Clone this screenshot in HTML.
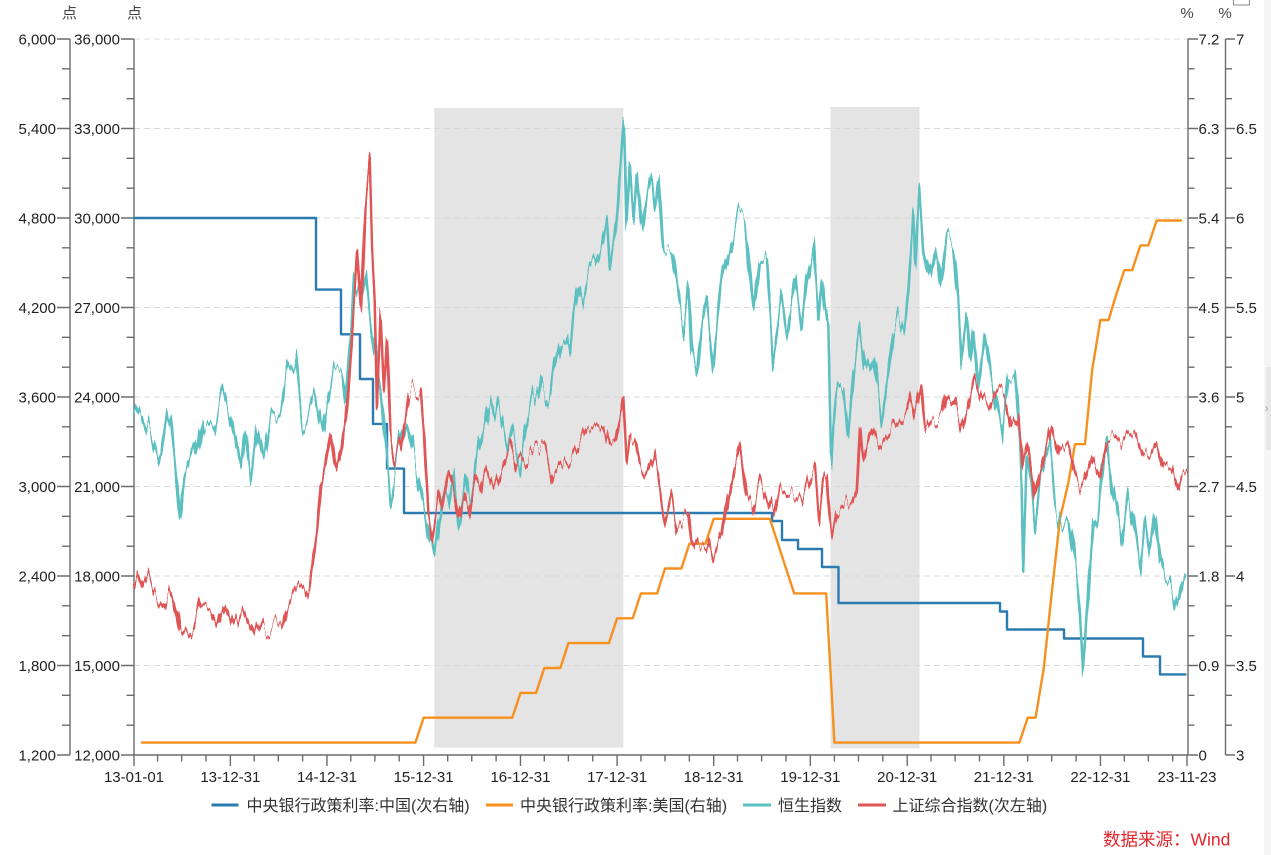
<!DOCTYPE html>
<html>
<head>
<meta charset="utf-8">
<style>
html,body{margin:0;padding:0;background:#fff;}
svg{display:block;}
text{font-family:"Liberation Sans","Noto Sans CJK SC",sans-serif;}
</style>
</head>
<body>
<svg width="1271" height="855" viewBox="0 0 1271 855" xmlns="http://www.w3.org/2000/svg">
<defs>
<filter id="jh" filterUnits="userSpaceOnUse" x="0" y="0" width="1271" height="855" color-interpolation-filters="sRGB">
 <feTurbulence type="fractalNoise" baseFrequency="0.22 0.001" numOctaves="2" seed="3" result="t"/>
 <feColorMatrix in="t" type="matrix" values="0 0 0 0 0.5  0 1 0 0 0  0 0 0 0 0  0 0 0 0 1" result="n"/>
 <feDisplacementMap in="SourceGraphic" in2="n" scale="50" xChannelSelector="R" yChannelSelector="G"/>
</filter>
<filter id="js" filterUnits="userSpaceOnUse" x="0" y="0" width="1271" height="855" color-interpolation-filters="sRGB">
 <feTurbulence type="fractalNoise" baseFrequency="0.22 0.001" numOctaves="2" seed="11" result="t"/>
 <feColorMatrix in="t" type="matrix" values="0 0 0 0 0.5  0 1 0 0 0  0 0 0 0 0  0 0 0 0 1" result="n"/>
 <feDisplacementMap in="SourceGraphic" in2="n" scale="40" xChannelSelector="R" yChannelSelector="G"/>
</filter>
</defs>
<rect x="0" y="0" width="1271" height="855" fill="#fff"/>

<!-- shaded periods -->
<rect x="434.3" y="108" width="189" height="639.5" fill="#e4e4e4"/>
<rect x="830.5" y="107" width="89" height="641.5" fill="#e4e4e4"/>

<!-- gridlines -->
<g stroke="#d9d9d9" stroke-width="1" stroke-dasharray="6,4">
<path d="M134 39H1188M134 128.5H1188M134 218H1188M134 307.5H1188M134 397H1188M134 486.5H1188M134 576H1188M134 665.5H1188"/>
</g>

<!-- axes -->
<g stroke="#6b6b6b" stroke-width="1.4" fill="none">
<path d="M70 39V755M134 39V755M1188 39V755M1225.5 39V755M134 755H1188"/>
<path d="M57 39H70M57 128.5H70M57 218H70M57 307.5H70M57 397H70M57 486.5H70M57 576H70M57 665.5H70M57 755H70"/>
<path d="M62 68.8H70M62 98.7H70M62 158.3H70M62 188.2H70M62 247.8H70M62 277.7H70M62 337.3H70M62 367.2H70M62 426.8H70M62 456.7H70M62 516.3H70M62 546.2H70M62 605.8H70M62 635.7H70M62 695.3H70M62 725.2H70"/>
<path d="M121 39H134M121 128.5H134M121 218H134M121 307.5H134M121 397H134M121 486.5H134M121 576H134M121 665.5H134M121 755H134"/>
<path d="M126.5 68.8H134M126.5 98.7H134M126.5 158.3H134M126.5 188.2H134M126.5 247.8H134M126.5 277.7H134M126.5 337.3H134M126.5 367.2H134M126.5 426.8H134M126.5 456.7H134M126.5 516.3H134M126.5 546.2H134M126.5 605.8H134M126.5 635.7H134M126.5 695.3H134M126.5 725.2H134"/>
<path d="M1188 39H1198M1188 128.5H1198M1188 218H1198M1188 307.5H1198M1188 397H1198M1188 486.5H1198M1188 576H1198M1188 665.5H1198M1188 755H1198"/>
<path d="M1188 68.8H1194.5M1188 98.7H1194.5M1188 158.3H1194.5M1188 188.2H1194.5M1188 247.8H1194.5M1188 277.7H1194.5M1188 337.3H1194.5M1188 367.2H1194.5M1188 426.8H1194.5M1188 456.7H1194.5M1188 516.3H1194.5M1188 546.2H1194.5M1188 605.8H1194.5M1188 635.7H1194.5M1188 695.3H1194.5M1188 725.2H1194.5"/>
<path d="M1225.5 39H1235M1225.5 128.5H1235M1225.5 218H1235M1225.5 307.5H1235M1225.5 397H1235M1225.5 486.5H1235M1225.5 576H1235M1225.5 665.5H1235M1225.5 755H1235"/>
<path d="M1225.5 68.8H1232M1225.5 98.7H1232M1225.5 158.3H1232M1225.5 188.2H1232M1225.5 247.8H1232M1225.5 277.7H1232M1225.5 337.3H1232M1225.5 367.2H1232M1225.5 426.8H1232M1225.5 456.7H1232M1225.5 516.3H1232M1225.5 546.2H1232M1225.5 605.8H1232M1225.5 635.7H1232M1225.5 695.3H1232M1225.5 725.2H1232"/>
<path d="M134 755V766M230.35 755V766M326.97 755V766M423.59 755V766M520.47 755V766M617.09 755V766M713.71 755V766M810.33 755V766M907.21 755V766M1003.83 755V766M1100.45 755V766M1187 755V766"/>
<path d="M157.56 755V761.5M181.65 755V761.5M206 755V761.5M254.18 755V761.5M278.27 755V761.5M302.62 755V761.5M350.79 755V761.5M374.88 755V761.5M399.23 755V761.5M447.68 755V761.5M471.77 755V761.5M496.12 755V761.5M544.29 755V761.5M568.38 755V761.5M592.74 755V761.5M640.91 755V761.5M665 755V761.5M689.35 755V761.5M737.53 755V761.5M761.62 755V761.5M785.97 755V761.5M834.41 755V761.5M858.5 755V761.5M882.85 755V761.5M931.03 755V761.5M955.12 755V761.5M979.47 755V761.5M1027.65 755V761.5M1051.74 755V761.5M1076.09 755V761.5M1124.27 755V761.5M1148.35 755V761.5M1172.71 755V761.5"/>
</g>

<!-- axis labels -->
<g font-size="15" fill="#222">
<g text-anchor="end">
<text x="56" y="44.3">6,000</text><text x="56" y="133.8">5,400</text><text x="56" y="223.3">4,800</text><text x="56" y="312.8">4,200</text><text x="56" y="402.3">3,600</text><text x="56" y="491.8">3,000</text><text x="56" y="581.3">2,400</text><text x="56" y="670.8">1,800</text><text x="56" y="760.3">1,200</text>
<text x="120" y="44.3">36,000</text><text x="120" y="133.8">33,000</text><text x="120" y="223.3">30,000</text><text x="120" y="312.8">27,000</text><text x="120" y="402.3">24,000</text><text x="120" y="491.8">21,000</text><text x="120" y="581.3">18,000</text><text x="120" y="670.8">15,000</text><text x="120" y="760.3">12,000</text>
</g>
<g text-anchor="start">
<text x="1198.5" y="44.3">7.2</text><text x="1198.5" y="133.8">6.3</text><text x="1198.5" y="223.3">5.4</text><text x="1198.5" y="312.8">4.5</text><text x="1198.5" y="402.3">3.6</text><text x="1198.5" y="491.8">2.7</text><text x="1198.5" y="581.3">1.8</text><text x="1198.5" y="670.8">0.9</text><text x="1198.5" y="760.3">0</text>
<text x="1236" y="44.3">7</text><text x="1236" y="133.8">6.5</text><text x="1236" y="223.3">6</text><text x="1236" y="312.8">5.5</text><text x="1236" y="402.3">5</text><text x="1236" y="491.8">4.5</text><text x="1236" y="581.3">4</text><text x="1236" y="670.8">3.5</text><text x="1236" y="760.3">3</text>
</g>
<g text-anchor="middle">
<text x="134" y="782">13-01-01</text><text x="230.35" y="782">13-12-31</text><text x="326.97" y="782">14-12-31</text><text x="423.59" y="782">15-12-31</text><text x="520.47" y="782">16-12-31</text><text x="617.09" y="782">17-12-31</text><text x="713.71" y="782">18-12-31</text><text x="810.33" y="782">19-12-31</text><text x="907.21" y="782">20-12-31</text><text x="1003.83" y="782">21-12-31</text><text x="1100.45" y="782">22-12-31</text><text x="1187" y="782">23-11-23</text>
<text x="69.5" y="18" fill="#444">点</text><text x="134.5" y="18" fill="#444">点</text>
<text x="1187" y="18" fill="#444">%</text><text x="1225" y="18" fill="#444">%</text>
</g>
</g>

<!-- series -->
<g fill="none" stroke-linejoin="round" stroke-linecap="round">
<polyline stroke="#2b7bb0" stroke-width="2.4" points="134,218 316,218 316,289.6 341,289.6 341,334.3 360,334.3 360,379 373,379 373,423.9 387,423.9 387,468.6 404,468.6 404,513 772,513 772,521 782,521 782,540 798,540 798,549 822,549 822,567 838.5,567 838.5,603 1000,603 1000,611.5 1007,611.5 1007,629.5 1064,629.5 1064,638.5 1143,638.5 1143,656.5 1160,656.5 1160,674.4 1185.5,674.4"/>
<polyline stroke="#f7901e" stroke-width="2.4" points="141.9,742.6 415.4,742.6 423.6,717.7 512.3,717.7 520.5,692.9 536.1,692.9 544.3,668 560.4,668 568.4,643.1 608.9,643.1 617.1,618.3 632.7,618.3 640.9,593.4 657.1,593.4 665,568.5 681.4,568.5 689.4,543.7 705.5,543.7 713.7,518.8 769.8,518.8 778,543.7 786,568.5 794.2,593.4 826.2,593.4 834.4,742.6 1019.4,742.6 1027.7,717.7 1035.6,717.7 1043.8,668 1051.7,593.4 1060,518.8 1068.3,483 1075,444.2 1085,444.2 1092.2,369.7 1100.4,320 1108.6,320 1116.1,295 1124.3,270.2 1132.2,270.2 1140.4,245.4 1148.4,245.4 1156.6,220.5 1180.9,220.5"/>
<polyline stroke="#5cbfc0" stroke-width="2.6" filter="url(#jh)" points="134,420 140.7,405 150.7,433 160.7,467 167,423 170.7,413 175.7,467 180,520 184,477 194,450 197,467 204,417 214,427 222,397 230.7,427 240.7,477 245.7,433 250.7,480 257,427 264,463 270.7,420 280.7,410 287,373 295.7,358 302,423 307,417 314,397 322,437 327,403 334,372 342,372 345.7,403 354,277 360.7,293 365.7,270 370.7,317 380.7,383 390.7,497 400.7,443 407,423 417,470 424,505 430,543 434.3,565 438.3,533 443.3,493 448.3,503 453.3,470 458.3,517 460,523 465,480 470,510 478.3,453 485,427 490,397 495,417 498.3,400 505,427 510,447 513.3,433 520,463 525,427 533.3,393 538.3,407 541.7,383 550,400 553.3,373 561.7,337 566.7,343 570,357 573.3,320 578.3,287 581.7,300 588.3,273 595,263 601.7,243 606.7,218 610,270 616.7,227 620,177 624,123 626.7,230 630,173 633.3,220 636.7,172 641.7,230 646.7,193 651.7,172 655,200 658.3,173 663.3,253 671.7,253 678.3,300 683.3,327 688.3,283 691.7,357 696.7,377 701.7,327 706.7,300 713.3,363 721.7,280 730,247 738.3,215 745,217 753.3,310 760,253 766.7,257 771.7,333 773.3,357 781.7,300 786.7,337 795,283 801.7,330 806.7,280 813.3,247 818.3,320 821.7,280 825,314 828.3,330 831,463 833.3,421 836.7,387 843.3,379 848.3,425 853.3,368 859,330 865,375 873.3,353 881.7,418 888.3,372 893.3,330 898.3,314 904.3,330 908.3,291 913.3,215 915,265 919.3,186 923.3,245 930,276 936.7,242 941.7,284 946.7,236 953.3,242 958.3,299 961.7,364 966.7,322 970,368 973.3,330 978.3,387 985,333 991.7,379 996.7,406 1001.7,433 1008.3,372 1015,372 1018.3,418 1021.7,483 1023.3,563 1026.7,456 1031.7,483 1035,521 1040,475 1045,464 1050,448 1055,502 1061.7,521 1068.3,513 1073.3,552 1076.7,578 1080,613 1083.3,674 1086.7,624 1090,571 1093.3,525 1098.3,513 1101.7,467 1106.7,437 1111.7,487 1118.3,521 1121.7,544 1128.3,494 1133.3,521 1140,567 1145,517 1150,552 1155,513 1160,559 1165,578 1170,575 1175,594 1178.3,605 1181.7,586 1185,575"/>
<polyline stroke="#e05555" stroke-width="2.6" filter="url(#js)" points="134,597 144,572 154,593 164,607 172,590 177,613 180.7,640 194,623 200.7,600 210.7,603 217,617 222,600 234,630 242,615 250.7,633 257,617 264,630 274,627 282,623 287,603 297,587 304,580 309,590 312,567 317,533 320.7,487 325.7,463 330.7,433 335.7,470 340.7,450 347,403 352,333 357,260 360.7,317 365.7,197 369.7,163 372,250 374.7,300 377,410 380.7,320 384,390 387,340 390.7,440 394,460 400.7,443 409,390 414,393 420.7,390 424,433 428.3,510 431.7,533 438.3,497 441.7,513 448.3,477 453.3,490 458.3,517 463.3,497 468.3,513 475,477 480,487 484.3,467 493.3,487 501.7,467 510,447 516.7,470 525,460 533.3,450 545,447 553.3,477 561.7,467 571.7,457 580,443 586.7,430 595,428 603.3,422 610,443 615,443 620,420 623.3,403 626.7,467 630,443 635,440 640,463 646.7,473 653.3,457 658.3,477 663.3,510 666.7,523 671.7,500 676.7,527 688.3,517 691.7,550 698.3,537 706.7,540 713.3,563 721.7,543 728.3,497 733.3,473 740,447 746.7,500 751.7,507 760,480 768.3,500 773.3,513 780,483 788.3,490 795,493 801.7,500 806.7,487 813.3,470 815,471 819,521 823.3,483 826.7,479 828.3,506 831.7,536 836.7,513 845,506 851.7,502 856.7,490 860,421 863.3,452 870,429 878.3,448 886.7,437 893.3,429 900,421 906.7,414 911.7,395 915,410 921,385 925,429 931.7,418 941.7,421 946.7,395 955,406 961.7,429 968.3,406 974.3,381 981.7,402 988.3,410 996.7,391 1005,398 1011.7,425 1018.3,414 1023.3,467 1028.3,448 1035,498 1041.7,467 1051.7,427 1060,456 1068.3,448 1075,475 1083.3,490 1093.3,460 1100,475 1106.7,444 1115,444 1128.3,429 1135,433 1143.3,452 1150,456 1156.7,444 1163.3,467 1171.7,471 1178.3,490 1181.7,479 1186.7,477"/>
</g>

<!-- legend -->
<g stroke-width="3">
<line x1="211.5" y1="805" x2="238.5" y2="805" stroke="#2b7bb0"/>
<line x1="486" y1="805" x2="513" y2="805" stroke="#f7901e"/>
<line x1="743" y1="805" x2="771" y2="805" stroke="#5cbfc0"/>
<line x1="858" y1="805" x2="886" y2="805" stroke="#e05555"/>
</g>
<g font-size="16" fill="#333">
<text x="246.5" y="811">中央银行政策利率:中国(次右轴)</text>
<text x="520" y="811">中央银行政策利率:美国(右轴)</text>
<text x="778" y="811">恒生指数</text>
<text x="892.5" y="811">上证综合指数(次左轴)</text>
</g>
<text x="1103" y="845.5" font-size="17.5" fill="#e3262b">数据来源：Wind</text>

<!-- right edge UI -->
<rect x="1264" y="0" width="7" height="855" fill="#f5f5f5"/>
<rect x="1266" y="367" width="5" height="83" fill="#e8e8e8"/>
<text x="1264.5" y="412" font-size="12" fill="#aaa">›</text>
<rect x="1233.5" y="-2" width="16" height="7" fill="#fff" stroke="#888" stroke-width="1"/>
</svg>
</body>
</html>
